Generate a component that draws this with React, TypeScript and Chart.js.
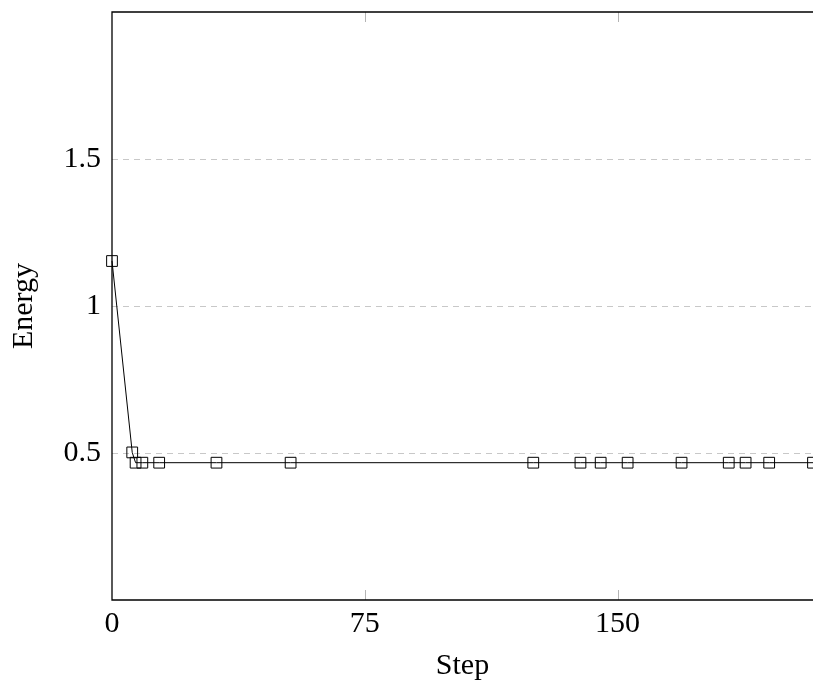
import React, { useEffect, useRef } from "react";
import { Chart, registerables } from "chart.js";

Chart.register(...registerables);

const STEPS = [0, 6, 7, 9, 14, 31, 53, 125, 139, 145, 153, 169, 183, 188, 195, 208];
const ENERGY = [1.153, 0.502, 0.467, 0.467, 0.467, 0.467, 0.467, 0.467, 0.467, 0.467, 0.467, 0.467, 0.467, 0.467, 0.467, 0.467];
const X_TICKS = [0, 75, 150];
const Y_TICKS = [0.5, 1, 1.5];
const X_MIN = 0;
const X_MAX = 208;
const Y_MIN = 0;
const Y_MAX = 2;

const FONT = "'Liberation Serif', 'Times New Roman', serif";

const framePlugin = {
  id: "frame",
  afterDatasetsDraw(chart: any) {
    const { ctx, chartArea } = chart;
    const { left, right, top, bottom } = chartArea;
    const xs = chart.scales.x;
    ctx.save();
    ctx.strokeStyle = "#b4b4b4";
    ctx.lineWidth = 1;
    X_TICKS.forEach((v) => {
      if (v === X_MIN) return;
      const px = Math.round(xs.getPixelForValue(v)) + 0.5;
      ctx.beginPath();
      ctx.moveTo(px, bottom);
      ctx.lineTo(px, bottom - 10);
      ctx.moveTo(px, top);
      ctx.lineTo(px, top + 10);
      ctx.stroke();
    });
    ctx.strokeStyle = "#000";
    ctx.lineWidth = 1.3;
    ctx.beginPath();
    ctx.moveTo(right + 2, top);
    ctx.lineTo(left, top);
    ctx.lineTo(left, bottom);
    ctx.lineTo(right + 2, bottom);
    ctx.stroke();
    ctx.restore();
  },
};

export default function App() {
  const ref = useRef<HTMLCanvasElement | null>(null);

  useEffect(() => {
    document.body.style.margin = "0";
    if (!ref.current) return;
    const chart = new Chart(ref.current, {
      type: "line",
      data: {
        datasets: [
          {
            data: STEPS.map((s, i) => ({ x: s, y: ENERGY[i] })),
            borderColor: "#000",
            borderWidth: 1,
            pointStyle: "rect",
            pointRadius: 7.6,
            pointBorderWidth: 1,
            pointBorderColor: "#000",
            pointBackgroundColor: "rgba(0,0,0,0)",
            tension: 0,
            clip: false,
          },
        ],
      },
      options: {
        animation: false,
        responsive: false,
        layout: { autoPadding: false, padding: { top: 12, right: 0, bottom: 0, left: 0 } },
        plugins: { legend: { display: false }, tooltip: { enabled: false } },
        scales: {
          x: {
            type: "linear",
            min: X_MIN,
            max: X_MAX,
            afterBuildTicks: (scale: any) => {
              scale.ticks = X_TICKS.map((v) => ({ value: v }));
            },
            afterFit: (scale: any) => {
              scale.height = 84;
              scale.paddingLeft = 0;
              scale.paddingRight = 0;
            },
            grid: { display: false, drawTicks: false },
            border: { display: false },
            ticks: {
              padding: 6,
              color: "#000",
              font: { family: FONT, size: 30 },
              maxRotation: 0,
              callback: (v: any) => String(v),
            },
            title: {
              display: true,
              text: "Step",
              color: "#000",
              font: { family: FONT, size: 30 },
              padding: { top: 0, bottom: 0 },
            },
          },
          y: {
            type: "linear",
            min: Y_MIN,
            max: Y_MAX,
            afterBuildTicks: (scale: any) => {
              scale.ticks = Y_TICKS.map((v) => ({ value: v }));
            },
            afterFit: (scale: any) => {
              scale.width = 112;
              scale.paddingTop = 0;
              scale.paddingBottom = 0;
            },
            grid: { color: "#c8c8c8", lineWidth: 1, drawTicks: false },
            border: { display: false, dash: [6, 5] },
            ticks: {
              padding: 11,
              color: "#000",
              font: { family: FONT, size: 30 },
              callback: (v: any) => String(v),
            },
            title: {
              display: true,
              text: "Energy",
              color: "#000",
              font: { family: FONT, size: 30 },
              padding: { top: 6, bottom: 0 },
            },
          },
        },
      },
      plugins: [framePlugin],
    });
    return () => chart.destroy();
  }, []);

  return (
    <canvas ref={ref} width={813} height={684} style={{ display: "block" }} />
  );
}
